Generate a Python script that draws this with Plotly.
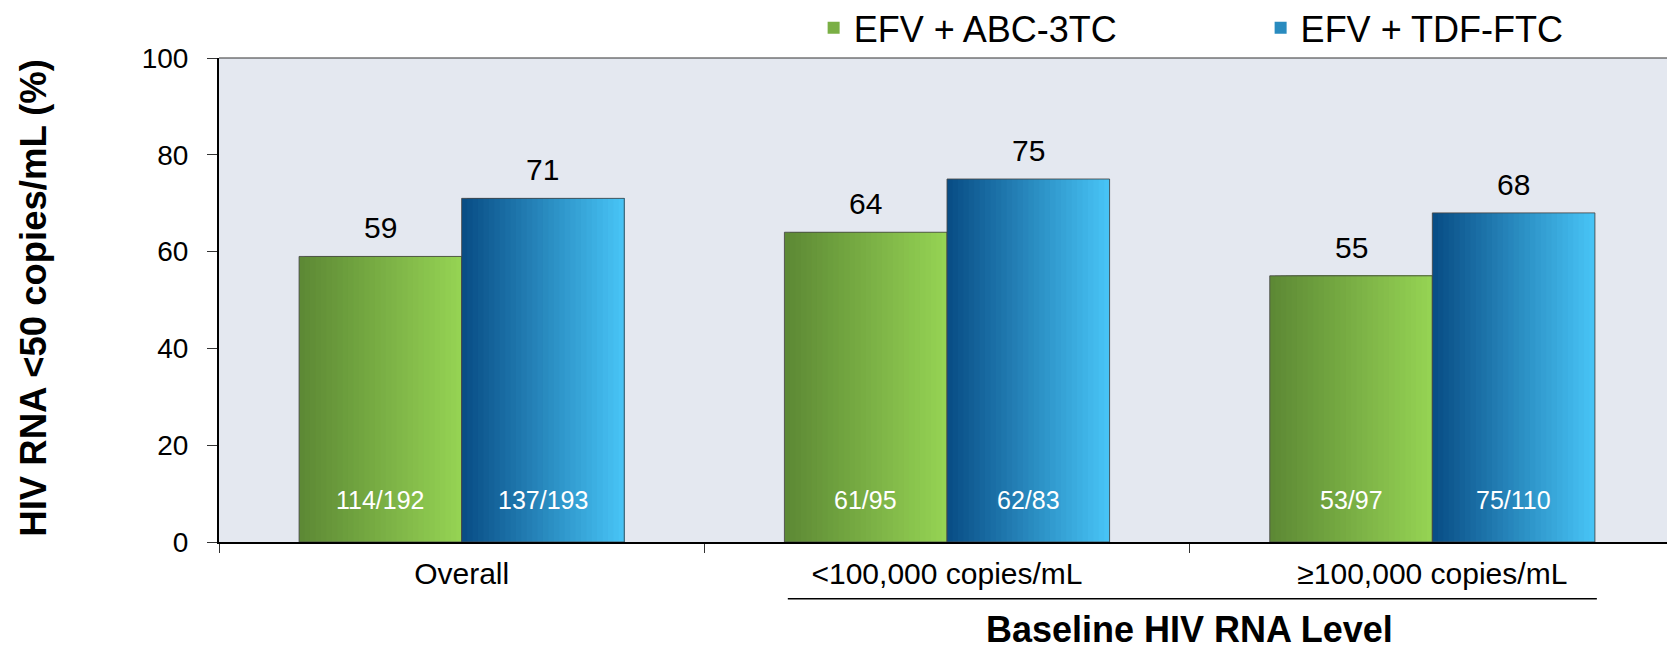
import plotly.graph_objects as go

# ---- data ----
categories = ["Overall", "<100,000 copies/mL", "≥100,000 copies/mL"]
series_names = ["EFV + ABC-3TC", "EFV + TDF-FTC"]
abc_values = [59, 64, 55]
tdf_values = [71, 75, 68]
abc_counts = ["114/192", "61/95", "53/97"]
tdf_counts = ["137/193", "62/83", "75/110"]
y_tick_values = [0, 20, 40, 60, 80, 100]
y_title = "HIV RNA <50 copies/mL (%)"
group_title = "Baseline HIV RNA Level"

# ---- styling ----
FONT = "Arial, Liberation Sans, sans-serif"
BAR_W = 0.335
N_SLICES = 30
grad = {
    0: ((92, 136, 52), (150, 212, 84)),   # green: dark left -> light right
    1: ((8, 76, 132), (72, 197, 247)),    # blue: dark left -> light right
}
legend_ids = ["legend", "legend2"]
series_values = [abc_values, tdf_values]
series_counts = [abc_counts, tdf_counts]


def lerp(c0, c1, t):
    return "rgb(%d,%d,%d)" % tuple(round(a + (b - a) * t) for a, b in zip(c0, c1))


fig = go.Figure()

for s, (name, vals) in enumerate(zip(series_names, series_values)):
    base_off = -BAR_W if s == 0 else 0.0
    c0, c1 = grad[s]
    step = BAR_W / N_SLICES
    for k in range(N_SLICES):
        fig.add_trace(go.Bar(
            x=categories, y=vals, name=name,
            offset=base_off + k * step, width=BAR_W - k * step,
            marker=dict(color=lerp(c0, c1, (k + 0.5) / N_SLICES), line=dict(width=0)),
            showlegend=(k == N_SLICES // 2), legendgroup=name, legend=legend_ids[s],
            hoverinfo="skip" if k else None,
        ))
    # thin outline on top
    fig.add_trace(go.Bar(
        x=categories, y=vals, name=name, offset=base_off, width=BAR_W,
        marker=dict(color="rgba(0,0,0,0)", line=dict(color="rgba(70,70,70,0.85)", width=1)),
        showlegend=False, legendgroup=name, legend=legend_ids[s], hoverinfo="skip",
    ))

annotations = []
for s, (vals, counts) in enumerate(zip(series_values, series_counts)):
    centre = -BAR_W / 2 if s == 0 else BAR_W / 2
    for i, (v, c) in enumerate(zip(vals, counts)):
        annotations.append(dict(x=i + centre, y=v, xref="x", yref="y", text=str(v),
                                showarrow=False, yanchor="bottom", yshift=10,
                                font=dict(family=FONT, size=30, color="black")))
        annotations.append(dict(x=i + centre, y=8.6, xref="x", yref="y", text=c,
                                showarrow=False, yanchor="middle",
                                font=dict(family=FONT, size=25, color="white")))

annotations.append(dict(x=-0.128, y=0.504, xref="paper", yref="paper", text="<b>%s</b>" % y_title,
                        textangle=-90, showarrow=False, xanchor="center", yanchor="middle",
                        font=dict(family=FONT, size=36.5, color="black")))
annotations.append(dict(x=1.5, y=-0.18, xref="x", yref="paper", text="<b>%s</b>" % group_title,
                        showarrow=False, xanchor="center", yanchor="middle",
                        font=dict(family=FONT, size=36, color="black")))

shapes = [
    dict(type="line", xref="x", yref="paper", x0=0.672, x1=2.339, y0=-0.117, y1=-0.117,
         line=dict(color="black", width=1.5)),
    dict(type="line", xref="paper", yref="paper", x0=0, x1=1, y0=1, y1=1,
         line=dict(color="#333333", width=1.2)),
]

legend_style = dict(orientation="h", xanchor="left", y=1.0624, yanchor="middle",
                    font=dict(family=FONT, size=36, color="black"),
                    bgcolor="rgba(0,0,0,0)")

# The page adds an 8px body margin, so the figure is sized/margined to compensate.
fig.update_layout(
    width=1667, height=642,
    margin=dict(l=211, r=0, t=50, b=108, autoexpand=False),
    paper_bgcolor="white", plot_bgcolor="#E4E8F0",
    barmode="overlay",
    font=dict(family=FONT, color="black"),
    showlegend=True,
    legend=dict(x=0.4084, **legend_style),
    legend2=dict(x=0.7154, **legend_style),
    annotations=annotations,
    shapes=shapes,
)
fig.update_xaxes(type="category", categoryorder="array", categoryarray=categories,
                 range=[-0.5, 2.5], showline=True, linecolor="black", linewidth=2,
                 ticks="outside", tickson="boundaries", ticklen=9, tickcolor="#333",
                 ticklabelstandoff=4,
                 tickfont=dict(family=FONT, size=30, color="black"), showgrid=False,
                 automargin=False)
fig.update_yaxes(range=[0, 100], tickvals=y_tick_values, showline=True, linecolor="black",
                 linewidth=2, ticks="outside", ticklen=10, tickcolor="#333",
                 ticklabelstandoff=13,
                 tickfont=dict(family=FONT, size=28, color="black"),
                 showgrid=False, zeroline=False, automargin=False)

fig.write_html("out.html")
